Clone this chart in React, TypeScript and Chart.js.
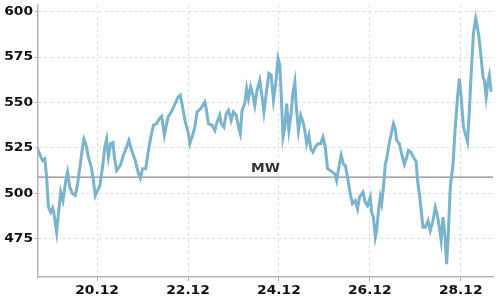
import React, { useEffect, useRef } from "react";
import { Chart, registerables } from "chart.js";

Chart.register(...registerables);

// Time in days of December (fractional)
const times = [
  18.70, 18.72, 18.80, 18.85, 18.89, 18.93, 18.98, 19.02, 19.05, 19.11, 19.15, 19.20, 19.25, 19.31, 19.35,
  19.40, 19.46, 19.52, 19.57, 19.63, 19.68, 19.71, 19.75, 19.81, 19.88, 19.92, 19.96, 20.01, 20.06, 20.12,
  20.17, 20.21, 20.25, 20.30, 20.35, 20.38, 20.43, 20.51, 20.58, 20.65, 20.70, 20.76, 20.84, 20.90, 20.95,
  21.00, 21.07, 21.13, 21.19, 21.24, 21.31, 21.37, 21.42, 21.48, 21.56, 21.63, 21.70, 21.78, 21.83, 21.88,
  21.94, 22.01, 22.04, 22.09, 22.15, 22.20, 22.28, 22.37, 22.40, 22.45, 22.53, 22.59, 22.64, 22.70, 22.73,
  22.79, 22.84, 22.89, 22.95, 23.00, 23.06, 23.12, 23.15, 23.19, 23.25, 23.29, 23.33, 23.38, 23.43, 23.47,
  23.52, 23.58, 23.63, 23.67, 23.73, 23.78, 23.83, 23.88, 23.93, 23.98, 24.02, 24.05, 24.09, 24.13, 24.17,
  24.22, 24.26, 24.31, 24.35, 24.38, 24.43, 24.48, 24.53, 24.57, 24.61, 24.66, 24.70, 24.75, 24.80, 24.86,
  24.92, 24.97, 25.02, 25.07, 25.13, 25.18, 25.23, 25.27, 25.32, 25.37, 25.42, 25.46, 25.51, 25.57, 25.62,
  25.68, 25.73, 25.77, 25.85, 25.90, 25.95, 26.01, 26.04, 26.08, 26.12, 26.15, 26.19, 26.23, 26.26, 26.30,
  26.34, 26.37, 26.43, 26.48, 26.52, 26.56, 26.59, 26.65, 26.70, 26.76, 26.80, 26.85, 26.90, 26.96, 27.02,
  27.05, 27.09, 27.13, 27.17, 27.22, 27.28, 27.33, 27.39, 27.44, 27.48, 27.53, 27.57, 27.61, 27.65, 27.69,
  27.73, 27.77, 27.83, 27.88, 27.93, 27.97, 28.01, 28.06, 28.10, 28.15, 28.19, 28.23, 28.28, 28.33, 28.36,
  28.40, 28.45, 28.49, 28.52, 28.56, 28.60, 28.63, 28.67,
];

const values = [
  522.0, 522.7, 518.0, 519.0, 509.0, 492.4, 489.6, 492.0, 489.0, 478.6, 489.0, 500.7, 496.0, 507.0, 511.7,
  503.4, 499.8, 498.8, 505.0, 516.0, 525.5, 530.0, 527.4, 520.0, 513.6, 507.0, 498.8, 501.6, 504.0, 514.5,
  525.5, 530.0, 520.0, 527.4, 528.0, 520.0, 512.6, 515.4, 521.0, 525.5, 529.2, 523.7, 518.2, 511.7, 508.4,
  513.6, 513.6, 523.7, 532.0, 537.5, 538.4, 541.2, 542.4, 532.0, 542.0, 544.8, 548.5, 553.0, 554.0, 547.6,
  539.3, 533.0, 527.4, 531.0, 536.5, 544.8, 546.7, 550.3, 546.7, 538.4, 537.5, 534.7, 539.3, 543.0, 538.4,
  536.5, 544.0, 545.8, 540.2, 544.8, 543.0, 535.6, 532.9, 545.8, 549.4, 557.7, 552.2, 558.6, 554.0, 548.5,
  556.8, 562.3, 553.0, 544.8, 556.8, 566.0, 565.0, 551.3, 560.5, 574.3, 570.6, 555.0, 531.0, 536.5, 549.4,
  534.7, 542.0, 555.9, 561.4, 548.5, 534.7, 543.0, 539.3, 534.7, 527.4, 532.0, 524.6, 522.7, 525.5, 527.4,
  527.4, 531.0, 525.5, 513.6, 512.6, 511.7, 510.8, 507.0, 514.5, 521.0, 516.0, 515.4, 509.0, 499.8, 494.3,
  496.0, 491.5, 497.9, 500.7, 495.1, 493.3, 497.9, 489.6, 486.9, 475.8, 479.5, 490.5, 497.9, 494.3, 503.4,
  516.0, 518.9, 528.0, 533.8, 538.4, 535.6, 529.2, 527.4, 521.8, 516.0, 518.9, 523.7, 522.7, 520.0, 517.5,
  507.1, 499.8, 490.6, 481.4, 481.4, 485.0, 479.5, 485.0, 492.4, 488.7, 481.4, 474.0, 486.9, 477.7, 461.1,
  479.5, 503.4, 516.0, 536.5, 553.0, 563.2, 553.0, 536.5, 532.9, 528.3, 545.8, 566.0, 588.1, 596.3, 592.7,
  586.2, 574.3, 564.1, 562.3, 553.0, 561.4, 565.0, 555.9,
];

const meanValue = 509;
const meanLabel = "MW";
const xTickValues = [20, 22, 24, 26, 28];
const xTickLabels = ["20.12", "22.12", "24.12", "26.12", "28.12"];
const yTickValues = [475, 500, 525, 550, 575, 600];
const yTickLabels = ["475", "500", "525", "550", "575", "600"];
const xMin = 18.7;
const xMax = 28.71;
const yMin = 454;
const yMax = 603.7;

const STRETCH = 1.15;
const FONT = "bold 12px 'DejaVu Sans'";

function drawStretched(ctx: CanvasRenderingContext2D, text: string, x: number, y: number, align: CanvasTextAlign, color: string) {
  ctx.save();
  ctx.translate(x, y);
  ctx.scale(STRETCH, 1);
  ctx.font = FONT;
  ctx.fillStyle = color;
  ctx.textAlign = align;
  ctx.textBaseline = "middle";
  ctx.fillText(text, 0, 0);
  ctx.restore();
}

const labelPlugin = {
  id: "labelPlugin",
  afterDraw(chart: any) {
    const ctx = chart.ctx as CanvasRenderingContext2D;
    const xs = chart.scales.x;
    const ys = chart.scales.y;
    const area = chart.chartArea;
    yTickValues.forEach((v, i) => {
      drawStretched(ctx, yTickLabels[i], area.left - 5, ys.getPixelForValue(v), "right", "#111");
    });
    xTickValues.forEach((v, i) => {
      drawStretched(ctx, xTickLabels[i], xs.getPixelForValue(v), area.bottom + 14, "center", "#111");
    });
    drawStretched(ctx, meanLabel, (area.left + area.right) / 2, ys.getPixelForValue(meanValue) - 8, "center", "#333");
  },
};

export default function App() {
  const ref = useRef<HTMLCanvasElement>(null);
  useEffect(() => {
    const canvas = ref.current;
    if (!canvas) return;
    const chart = new Chart(canvas, {
      type: "line",
      data: {
        datasets: [
          {
            data: times.map((t, i) => ({ x: t, y: values[i] })),
            borderColor: "#7ab3cc",
            borderWidth: 3,
            pointRadius: 0,
            tension: 0,
          },
          {
            data: [
              { x: xMin, y: meanValue },
              { x: xMax, y: meanValue },
            ],
            borderColor: "#8a8a8a",
            borderWidth: 1.3,
            pointRadius: 0,
          },
        ],
      },
      options: {
        animation: false,
        responsive: true,
        maintainAspectRatio: false,
        layout: { padding: { top: 5, right: 7, left: 0, bottom: 0 } },
        plugins: { legend: { display: false }, tooltip: { enabled: false } },
        scales: {
          x: {
            type: "linear",
            min: xMin,
            max: xMax,
            afterBuildTicks: (s: any) => {
              s.ticks = xTickValues.map((v) => ({ value: v }));
            },
            afterFit: (s: any) => {
              s.height = 23;
            },
            ticks: { display: false },
            grid: {
              color: "#dddddd",
              lineWidth: 1,
              drawTicks: true,
              tickLength: 4,
              tickColor: "#aaaaaa",
              tickBorderDash: [],
            } as any,
            border: { display: true, color: "#b5b5b5", width: 1.5, dash: [3, 3] },
          },
          y: {
            type: "linear",
            min: yMin,
            max: yMax,
            afterBuildTicks: (s: any) => {
              s.ticks = yTickValues.map((v) => ({ value: v }));
            },
            afterFit: (s: any) => {
              s.width = 38;
            },
            ticks: { display: false },
            grid: {
              color: "#dddddd",
              lineWidth: 1,
              drawTicks: true,
              tickLength: 3,
              tickColor: "#aaaaaa",
              tickBorderDash: [],
            } as any,
            border: { display: true, color: "#b5b5b5", width: 1.5, dash: [3, 3] },
          },
        },
      },
      plugins: [labelPlugin],
    });
    return () => chart.destroy();
  }, []);
  return (
    <div style={{ position: "fixed", left: 0, top: 0, width: 500, height: 300, background: "#fff" }}>
      <canvas ref={ref} />
    </div>
  );
}
